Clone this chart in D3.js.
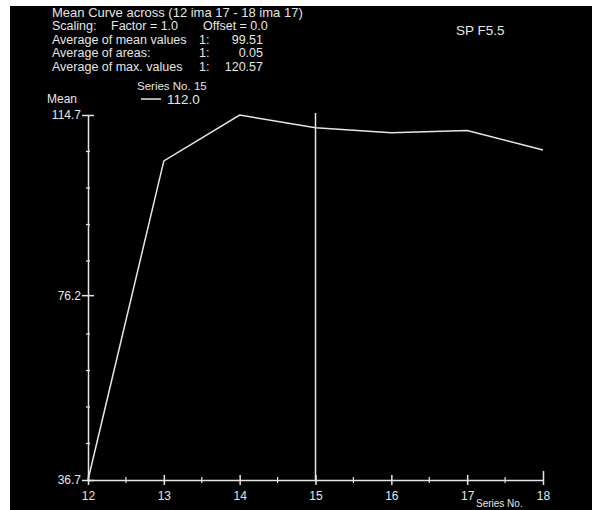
<!DOCTYPE html>
<html lang="en">
<head>
    <meta charset="UTF-8">
    <title>Mean Curve across</title>
    <script src="https://cdn.jsdelivr.net/npm/d3@7"></script>
    <style>
        body { margin: 0; background: #fff; }
        text { font-family: "Liberation Sans", Arial, sans-serif; }
    </style>
</head>
<body>
<script>
    // series values
    var seriesNo = [12, 13, 14, 15, 16, 17, 18];
    var meanValues = [36.7, 104.9, 114.7, 112.0, 110.9, 111.4, 107.2];
    var yTickValues = [36.7, 76.2, 114.7];
    var title = "Mean Curve across (12 ima 17 - 18 ima 17)";
    var scalingText = ["Scaling:", "Factor = 1.0", "Offset = 0.0"];
    var statLabels = ["Average of mean values", "Average of areas:", "Average of max. values"];
    var statValues = ["99.51", "0.05", "120.57"];
    var cursorAt = 15;

    var width = 594, height = 510;

    var svg = d3.select("body").append("svg")
        .attr("width", width)
        .attr("height", height);

    // black panel
    svg.append("rect")
        .attr("x", 10).attr("y", 6)
        .attr("width", 582).attr("height", 504)
        .attr("fill", "#000");

    var x = d3.scaleLinear().domain([12, 18]).range([88, 543]);
    var y = d3.scaleLinear().domain([36.7, 114.7]).range([480, 115]);

    var fg = "#e6e6e6";
    var hs = 12.5;

    // header text
    svg.append("text")
        .attr("x", 52).attr("y", 16.5)
        .attr("font-size", 13).attr("fill", fg)
        .text(title);

    var scalingX = [52, 111, 203];
    svg.selectAll(".scl")
        .data(scalingText)
        .enter().append("text")
        .attr("class", "scl")
        .attr("x", (d, i) => scalingX[i])
        .attr("y", 30)
        .attr("font-size", hs).attr("fill", fg)
        .text(d => d);

    var stats = svg.selectAll(".stat")
        .data(statLabels)
        .enter().append("g")
        .attr("class", "stat")
        .attr("transform", (d, i) => "translate(0," + (43.5 + i * 13.5) + ")");
    stats.append("text")
        .attr("x", 52).attr("font-size", hs).attr("fill", fg)
        .text(d => d);
    stats.append("text")
        .attr("x", 199).attr("font-size", hs).attr("fill", fg)
        .text("1:");
    stats.append("text")
        .attr("x", 263).attr("text-anchor", "end")
        .attr("font-size", hs).attr("fill", fg)
        .text((d, i) => statValues[i]);

    svg.append("text")
        .attr("x", 456).attr("y", 35)
        .attr("font-size", 13.5).attr("fill", fg)
        .text("SP F5.5");

    svg.append("text")
        .attr("x", 137).attr("y", 90)
        .attr("font-size", 11.5).attr("fill", fg)
        .text("Series No. 15");

    svg.append("text")
        .attr("x", 47).attr("y", 103)
        .attr("font-size", 12).attr("fill", fg)
        .text("Mean");

    // legend
    svg.append("line")
        .attr("x1", 141).attr("x2", 161)
        .attr("y1", 99).attr("y2", 99)
        .attr("stroke", fg).attr("stroke-width", 1.5);
    svg.append("text")
        .attr("x", 167).attr("y", 104)
        .attr("font-size", 13.5).attr("fill", fg)
        .text(meanValues[seriesNo.indexOf(cursorAt)].toFixed(1));

    // x axis
    var xAxis = svg.append("g")
        .attr("transform", "translate(0,480)")
        .call(d3.axisBottom(x).tickValues(seriesNo).tickSize(0).tickPadding(11).tickFormat(d3.format("d")));
    xAxis.select(".domain").attr("stroke", fg).attr("stroke-width", 1.5);
    xAxis.selectAll(".tick line").attr("y1", -5).attr("y2", 5).attr("stroke", fg).attr("stroke-width", 1.5);
    xAxis.selectAll(".tick text").attr("fill", fg).attr("font-size", 12).attr("font-family", "Liberation Sans, Arial, sans-serif");
    xAxis.select(".tick:last-of-type line").attr("y1", -9).attr("y2", 5);

    var xMinor = d3.range(12.5, 18, 1);
    svg.append("g").selectAll("line")
        .data(xMinor).enter().append("line")
        .attr("x1", d => x(d)).attr("x2", d => x(d))
        .attr("y1", 477).attr("y2", 483)
        .attr("stroke", fg).attr("stroke-width", 1.2);

    // y axis
    var yAxis = svg.append("g")
        .attr("transform", "translate(88,0)")
        .call(d3.axisLeft(y).tickValues(yTickValues).tickSize(0).tickPadding(7).tickFormat(d3.format(".1f")));
    yAxis.select(".domain").attr("stroke", fg).attr("stroke-width", 1.5);
    yAxis.selectAll(".tick line").attr("x1", -6).attr("x2", 6).attr("stroke", fg).attr("stroke-width", 1.5);
    yAxis.selectAll(".tick text").attr("fill", fg).attr("font-size", 12).attr("font-family", "Liberation Sans, Arial, sans-serif");

    var yMinor = d3.range(1, 10).map(i => 36.7 + i * 7.8).filter(v => Math.abs(v - 76.2) > 2);
    svg.append("g").selectAll("line")
        .data(yMinor).enter().append("line")
        .attr("x1", 86).attr("x2", 90)
        .attr("y1", d => y(d)).attr("y2", d => y(d))
        .attr("stroke", fg).attr("stroke-width", 1.2);

    // cursor line
    svg.append("line")
        .attr("x1", x(cursorAt)).attr("x2", x(cursorAt))
        .attr("y1", 113).attr("y2", 480)
        .attr("stroke", fg).attr("stroke-width", 1.5);

    // mean curve
    var line = d3.line()
        .x((d, i) => x(seriesNo[i]))
        .y(d => y(d));
    svg.append("path")
        .datum(meanValues)
        .attr("d", line)
        .attr("fill", "none")
        .attr("stroke", fg)
        .attr("stroke-width", 1.5);

    svg.append("text")
        .attr("x", 476).attr("y", 507)
        .attr("font-size", 10).attr("fill", fg)
        .text("Series No.");
</script>
</body>
</html>
